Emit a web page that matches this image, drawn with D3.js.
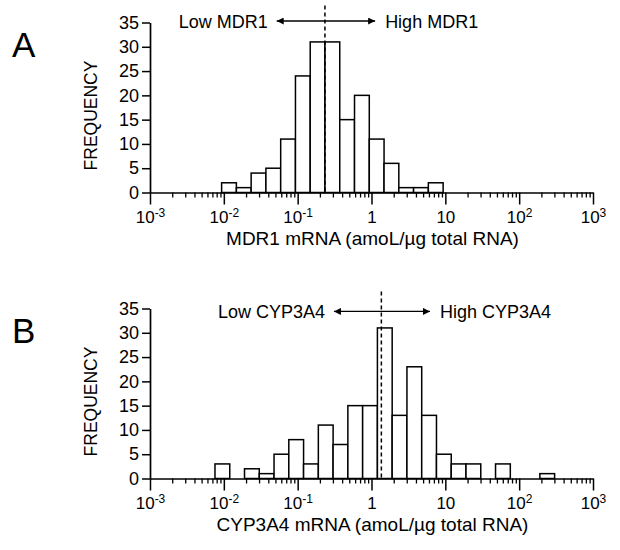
<!DOCTYPE html>
<html>
<head>
<meta charset="utf-8">
<script src="https://cdn.jsdelivr.net/npm/d3@7"></script>
<style>
  body { margin: 0; background: #fff; }
  svg { display: block; font-family: "Liberation Sans", Arial, Helvetica, sans-serif; }
</style>
</head>
<body>
<svg id="chart" width="620" height="550"></svg>
<script>
// log10 bin width shared by both histograms
const BIN_WIDTH = 0.2;

// Panel A: MDR1 histogram (first bin starts at 10^-2.03)
const mdr1BinStart = -2.03;
const mdr1Counts = [2, 1, 4, 5, 11, 24, 31, 31, 15, 20, 11, 6, 1, 1, 2];
const mdr1Cutoff = 0.234;
const mdr1Arrow = [0.052, 1.12];

// Panel B: CYP3A4 histogram (first bin starts at 10^-2.12)
const cypBinStart = -2.12;
const cypCounts = [3, 0, 2, 1, 5, 8, 3, 11, 7, 15, 15, 31, 13, 23, 13, 5, 3, 3, 0, 3, 0, 0, 1];
const cypCutoff = 1.36;
const cypArrow = [0.31, 6.2];

const yTicks = [0, 5, 10, 15, 20, 25, 30, 35];
const decades = [1e-3, 1e-2, 1e-1, 1, 10, 1e2, 1e3];
const decadeLabels = [["10", "-3"], ["10", "-2"], ["10", "-1"], ["1", ""], ["10", ""], ["10", "2"], ["10", "3"]];

const panels = [
  { letter: "A", offset: 0, start: mdr1BinStart, counts: mdr1Counts, cutoff: mdr1Cutoff, arrow: mdr1Arrow,
    arrowY: 35.3, textY: 33.8, low: "Low MDR1", high: "High MDR1", title: "MDR1 mRNA (amoL/µg total RNA)" },
  { letter: "B", offset: 286, start: cypBinStart, counts: cypCounts, cutoff: cypCutoff, arrow: cypArrow,
    arrowY: 34.4, textY: 33.0, low: "Low CYP3A4", high: "High CYP3A4", title: "CYP3A4 mRNA (amoL/µg total RNA)" }
];

const svg = d3.select("#chart");

const x = d3.scaleLog().domain([1e-3, 1e3]).range([150, 593]);
const y = d3.scaleLinear().domain([0, 35]).range([192.5, 22.5]);

const minorTicks = [];
decades.slice(0, -1).forEach(d => {
  for (let k = 2; k <= 9; k++) minorTicks.push(d * k);
});

svg.append("defs").append("marker")
  .attr("id", "arrowhead")
  .attr("viewBox", "0 0 10 10")
  .attr("refX", 10)
  .attr("refY", 5)
  .attr("markerUnits", "userSpaceOnUse")
  .attr("markerWidth", 10)
  .attr("markerHeight", 7)
  .attr("orient", "auto-start-reverse")
  .append("path")
  .attr("d", "M0,0L10,5L0,10Z")
  .attr("fill", "#000");

function drawPanel(p) {
  const g = svg.append("g").attr("transform", `translate(0,${p.offset})`);

  g.append("text")
    .attr("x", 12)
    .attr("y", 57)
    .attr("font-size", 35)
    .text(p.letter);

  // bars
  const bins = p.counts.map((c, i) => ({
    x0: Math.pow(10, p.start + i * BIN_WIDTH),
    x1: Math.pow(10, p.start + (i + 1) * BIN_WIDTH),
    count: c
  })).filter(b => b.count > 0);

  g.selectAll("rect.bar")
    .data(bins)
    .join("rect")
    .attr("class", "bar")
    .attr("x", d => x(d.x0))
    .attr("width", d => x(d.x1) - x(d.x0))
    .attr("y", d => y(d.count))
    .attr("height", d => y(0) - y(d.count))
    .attr("fill", "#fff")
    .attr("stroke", "#000")
    .attr("stroke-width", 1.5);

  // cutoff dashed line
  g.append("line")
    .attr("x1", x(p.cutoff)).attr("x2", x(p.cutoff))
    .attr("y1", y(38.5)).attr("y2", y(0))
    .attr("stroke", "#000")
    .attr("stroke-width", 1.5)
    .attr("stroke-dasharray", "4,3");

  // double arrow + labels
  g.append("line")
    .attr("x1", x(p.arrow[0])).attr("x2", x(p.arrow[1]))
    .attr("y1", y(p.arrowY)).attr("y2", y(p.arrowY))
    .attr("stroke", "#000")
    .attr("stroke-width", 1.4)
    .attr("marker-start", "url(#arrowhead)")
    .attr("marker-end", "url(#arrowhead)");

  g.append("text")
    .attr("x", x(p.arrow[0]) - 9)
    .attr("y", y(p.textY))
    .attr("text-anchor", "end")
    .attr("font-size", 18)
    .text(p.low);

  g.append("text")
    .attr("x", x(p.arrow[1]) + 10)
    .attr("y", y(p.textY))
    .attr("text-anchor", "start")
    .attr("font-size", 18)
    .text(p.high);

  // y axis
  const yAxis = g.append("g")
    .attr("transform", `translate(${x(1e-3)},0)`)
    .call(d3.axisLeft(y).tickValues(yTicks).tickSize(8).tickPadding(3).tickSizeOuter(0));
  yAxis.select(".domain").attr("stroke-width", 1.7);
  yAxis.selectAll(".tick line").attr("stroke-width", 1.5);
  yAxis.selectAll(".tick text").attr("font-size", 18).attr("fill", "#000");

  // x axis: minor ticks
  const xMinor = g.append("g")
    .attr("transform", `translate(0,${y(0)})`)
    .call(d3.axisBottom(x).tickValues(minorTicks).tickSize(5).tickFormat("").tickSizeOuter(0));
  xMinor.select(".domain").attr("stroke-width", 1.7);
  xMinor.selectAll(".tick line").attr("stroke-width", 1.3);

  // x axis: decade ticks with superscript labels
  const xMajor = g.append("g")
    .attr("transform", `translate(0,${y(0)})`)
    .call(d3.axisBottom(x).tickValues(decades).tickSize(12).tickPadding(6).tickFormat("").tickSizeOuter(0));
  xMajor.select(".domain").remove();
  xMajor.selectAll(".tick line").attr("stroke-width", 1.5);
  xMajor.selectAll(".tick text").each(function (d, i) {
    const t = d3.select(this).attr("font-size", 17).attr("fill", "#000");
    const [base, sup] = decadeLabels[i];
    t.append("tspan").text(base);
    if (sup) {
      t.append("tspan")
        .attr("font-size", 12)
        .attr("dy", "-0.45em")
        .text(sup);
    }
  });

  // axis titles
  g.append("text")
    .attr("transform", `translate(97,${(y(0) + y(35)) / 2 + 8}) rotate(-90)`)
    .attr("text-anchor", "middle")
    .attr("font-size", 17.5)
    .text("FREQUENCY");

  g.append("text")
    .attr("x", (x(1e-3) + x(1e3)) / 2 + 1)
    .attr("y", y(0) + 52)
    .attr("text-anchor", "middle")
    .attr("font-size", 19)
    .text(p.title);
}

panels.forEach(drawPanel);
</script>
</body>
</html>
